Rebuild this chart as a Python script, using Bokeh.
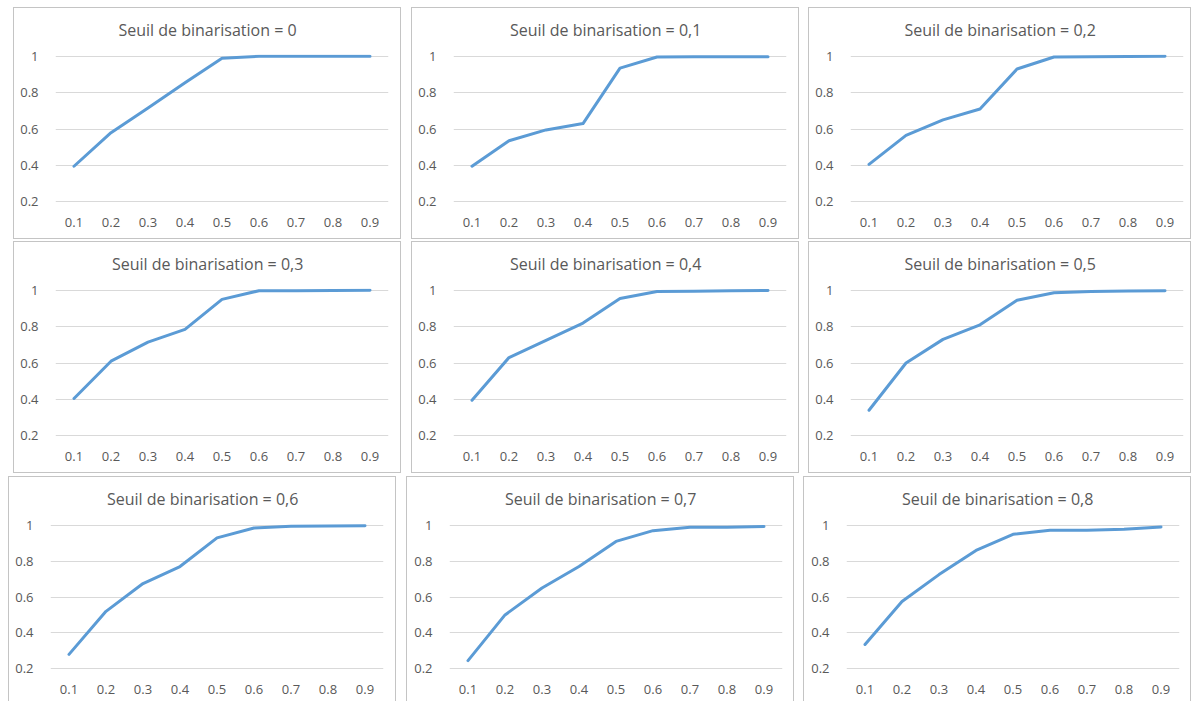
from bokeh.plotting import figure
from bokeh.models import FactorRange, Range1d, FixedTicker
from bokeh.layouts import row, column
from bokeh.embed import file_html
from bokeh.resources import INLINE

# ---- data ----
x_labels = ["0.1", "0.2", "0.3", "0.4", "0.5", "0.6", "0.7", "0.8", "0.9"]
y_ticks = [0.2, 0.4, 0.6, 0.8, 1.0]
y_tick_labels = ["0.2", "0.4", "0.6", "0.8", "1"]
thresholds = ["0", "0,1", "0,2", "0,3", "0,4", "0,5", "0,6", "0,7", "0,8"]

s_00 = [0.395, 0.58, 0.715, 0.855, 0.99, 1.0, 1.0, 1.0, 1.0]
s_01 = [0.395, 0.535, 0.595, 0.63, 0.935, 0.996, 0.997, 0.998, 0.998]
s_02 = [0.405, 0.565, 0.65, 0.71, 0.93, 0.996, 0.997, 0.999, 1.0]
s_03 = [0.405, 0.61, 0.715, 0.785, 0.95, 0.998, 0.998, 0.999, 1.0]
s_04 = [0.395, 0.63, 0.725, 0.82, 0.955, 0.993, 0.995, 0.998, 0.999]
s_05 = [0.34, 0.6, 0.73, 0.81, 0.945, 0.987, 0.994, 0.996, 0.998]
s_06 = [0.28, 0.52, 0.675, 0.77, 0.93, 0.985, 0.994, 0.996, 0.998]
s_07 = [0.245, 0.5, 0.65, 0.77, 0.91, 0.97, 0.989, 0.989, 0.993]
s_08 = [0.335, 0.575, 0.725, 0.86, 0.95, 0.972, 0.972, 0.978, 0.991]
series = [s_00, s_01, s_02, s_03, s_04, s_05, s_06, s_07, s_08]

# ---- style ----
LINE = "#5b9bd5"
GRID = "#d9d9d9"
TEXT = "#595959"
BORDER = "#c4c4c4"
FONT = "Open Sans"
TITLE_PX = 16

# Open Sans advance widths (units per em = 2048), used to centre the title
# over the whole chart box rather than over the plot frame.
_ADV = {"S": 1118, "e": 1147, "u": 1255, "i": 518, "l": 518, " ": 532,
        "d": 1255, "b": 1255, "n": 1255, "a": 1139, "r": 836, "s": 977,
        "t": 723, "o": 1237, "=": 1169, ",": 502}


def text_width(s, px):
    return sum(_ADV.get(c, 1171) for c in s) / 2048.0 * px


def make_panel(idx, width, height, left, bottom, margin, last_row=False):
    p = figure(
        x_range=FactorRange(factors=x_labels),
        y_range=Range1d(0.19, 1.01),
        width=width, height=height,
        min_border_left=left, min_border_right=width - left - 333,
        min_border_top=47, min_border_bottom=bottom,
        output_backend="svg", toolbar_location=None,
        background_fill_color=None, border_fill_color=None,
        outline_line_color=None, margin=margin,
    )
    if last_row:
        shadow = (f"inset 1px 0 0 0 {BORDER}, inset -1px 0 0 0 {BORDER}, "
                  f"inset 0 1px 0 0 {BORDER}")
    else:
        shadow = f"inset 0 0 0 1px {BORDER}"
    p.styles = {"box-shadow": shadow}

    title = f"Seuil de binarisation = {thresholds[idx]}"
    p.title.text = title
    p.title.align = "left"
    p.title.offset = (width - text_width(title, TITLE_PX)) / 2 - left
    p.title.vertical_align = "top"
    p.title.standoff = 23
    p.title.text_font = FONT
    p.title.text_font_size = f"{TITLE_PX}px"
    p.title.text_font_style = "normal"
    p.title.text_color = TEXT

    p.xgrid.visible = False
    p.ygrid.ticker = FixedTicker(ticks=y_ticks)
    p.ygrid.grid_line_color = GRID
    p.ygrid.grid_line_width = 1

    p.yaxis.ticker = FixedTicker(ticks=y_ticks)
    p.yaxis.major_label_overrides = {t: l for t, l in zip(y_ticks, y_tick_labels)}
    for ax in (p.xaxis[0], p.yaxis[0]):
        ax.axis_line_color = None
        ax.major_tick_line_color = None
        ax.minor_tick_line_color = None
        ax.major_tick_out = 0
        ax.major_tick_in = 0
        ax.major_label_text_font = FONT
        ax.major_label_text_font_size = "13px"
        ax.major_label_text_color = TEXT
    p.yaxis.major_label_standoff = 17
    p.xaxis.major_label_standoff = 14

    p.line(x=x_labels, y=series[idx], line_color=LINE, line_width=3,
           line_join="round", line_cap="round")
    return p


r1 = row(
    make_panel(0, 388, 232, 42, 36, (0, 0, 0, 5)),
    make_panel(1, 388, 232, 42, 36, (0, 0, 0, 10)),
    make_panel(2, 383, 232, 42, 36, (0, 0, 0, 9)),
)
r2 = row(
    make_panel(3, 388, 232, 42, 36, (2, 0, 0, 5)),
    make_panel(4, 388, 232, 42, 36, (2, 0, 0, 10)),
    make_panel(5, 383, 232, 42, 36, (2, 0, 0, 9)),
)
r3 = row(
    make_panel(6, 388, 225, 42, 31, (3, 0, 0, 0), True),
    make_panel(7, 388, 225, 43, 31, (3, 0, 0, 10), True),
    make_panel(8, 388, 225, 43, 31, (3, 0, 0, 9), True),
)
layout = column(r1, r2, r3, margin=(7, 0, 0, 8))

open("out.html", "w").write(file_html(layout, INLINE))
